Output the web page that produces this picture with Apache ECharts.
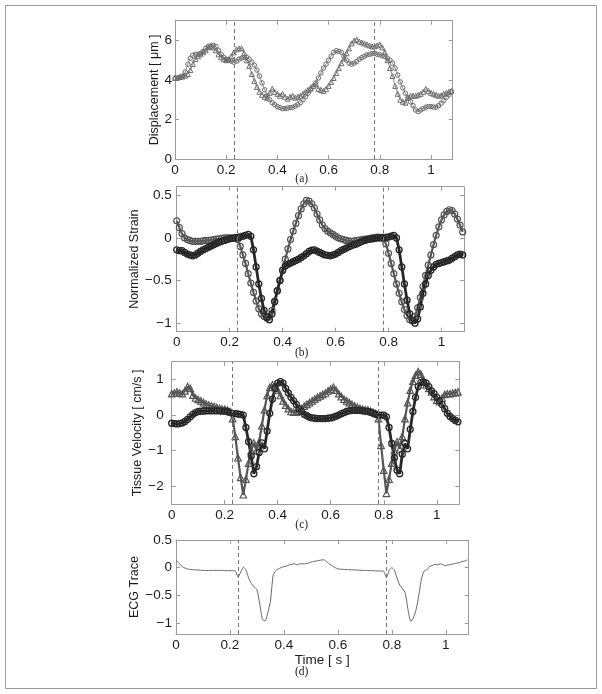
<!DOCTYPE html>
<html>
<head>
<meta charset="utf-8">
<script src="https://cdn.jsdelivr.net/npm/echarts@6/dist/echarts.min.js"></script>
<style>
html,body{margin:0;padding:0;background:#fff;}
#chart{width:602px;height:694px;}
</style>
</head>
<body>
<div id="chart"></div>
<script>
// ---------- data ----------
const time = [0,0.01,0.02,0.03,0.04,0.05,0.06,0.07,0.08,0.09,0.10,0.11,0.12,0.13,0.14,0.15,0.16,0.17,0.18,0.19,
0.20,0.21,0.22,0.23,0.24,0.25,0.26,0.27,0.28,0.29,0.30,0.31,0.32,0.33,0.34,0.35,0.36,0.37,0.38,0.39,
0.40,0.41,0.42,0.43,0.44,0.45,0.46,0.47,0.48,0.49,0.50,0.51,0.52,0.53,0.54,0.55,0.56,0.57,0.58,0.59,
0.60,0.61,0.62,0.63,0.64,0.65,0.66,0.67,0.68,0.69,0.70,0.71,0.72,0.73,0.74,0.75,0.76,0.77,0.78,0.79,
0.80,0.81,0.82,0.83,0.84,0.85,0.86,0.87,0.88,0.89,0.90,0.91,0.92,0.93,0.94,0.95,0.96,0.97,0.98,0.99,
1.00,1.01,1.02,1.03,1.04,1.05,1.06,1.07,1.08];

// (a) displacement [um]
const dispCircles = [4.10,4.10,4.15,4.20,4.40,4.80,5.10,5.25,5.30,5.30,5.35,5.45,5.60,5.70,5.72,5.75,5.70,5.50,5.30,5.15,
5.05,5.00,4.95,4.90,4.95,5.05,5.10,5.15,5.15,5.05,4.90,4.75,4.50,4.20,3.85,3.50,3.20,3.00,2.85,2.75,
2.65,2.60,2.55,2.55,2.58,2.60,2.62,2.68,2.75,2.85,3.00,3.15,3.33,3.50,3.67,3.85,4.10,4.35,4.60,4.80,
5.00,5.20,5.40,5.48,5.45,5.40,5.20,5.00,4.85,4.80,4.85,4.93,5.05,5.13,5.20,5.27,5.30,5.33,5.35,5.30,
5.27,5.22,5.19,5.10,5.00,4.85,4.60,4.25,3.90,3.60,3.33,3.10,2.90,2.70,2.48,2.40,2.48,2.55,2.62,2.65,
2.65,2.63,2.62,2.70,2.82,2.95,3.12,3.25,3.41];
const dispTriangles = [4.10,4.12,4.15,4.18,4.22,4.30,4.50,4.80,5.05,5.20,5.30,5.40,5.50,5.65,5.70,5.65,5.50,5.30,5.15,5.05,
5.00,5.05,5.20,5.40,5.55,5.60,5.60,5.35,5.00,4.70,4.30,3.95,3.65,3.40,3.25,3.15,3.10,3.35,3.55,3.40,
3.30,3.20,3.30,3.15,3.05,3.15,3.20,3.10,3.15,3.20,3.30,3.40,3.50,3.60,3.70,3.80,3.55,3.50,3.45,3.55,
3.70,3.90,4.10,4.35,4.60,4.85,5.10,5.35,5.60,5.85,6.00,6.05,5.95,5.90,5.85,5.80,5.75,5.70,5.70,5.75,
5.80,5.65,5.40,5.00,4.60,4.20,3.70,3.30,3.00,2.90,2.85,3.10,3.20,3.20,3.20,3.25,3.30,3.40,3.55,3.45,
3.35,3.30,3.25,3.20,3.22,3.30,3.35,3.40,3.45];

// (b) normalized strain
const strainA = [0.20,0.12,0.05,0.00,-0.02,-0.03,-0.04,-0.04,-0.04,-0.04,-0.035,-0.03,-0.03,-0.025,-0.02,-0.015,-0.01,-0.005,0.00,0.00,
0.00,0.00,0.00,-0.02,-0.10,-0.20,-0.30,-0.42,-0.53,-0.64,-0.74,-0.83,-0.89,-0.92,-0.94,-0.92,-0.85,-0.74,-0.62,-0.50,
-0.38,-0.25,-0.13,-0.02,0.08,0.17,0.26,0.34,0.40,0.44,0.43,0.40,0.35,0.28,0.21,0.15,0.11,0.08,0.06,0.04,
0.02,0.00,-0.01,-0.02,-0.03,-0.035,-0.04,-0.035,-0.03,-0.025,-0.02,-0.015,-0.01,-0.005,0.00,0.005,0.01,0.005,0.00,-0.07,
-0.18,-0.30,-0.42,-0.54,-0.65,-0.75,-0.84,-0.91,-0.96,-0.97,-0.92,-0.82,-0.70,-0.57,-0.44,-0.32,-0.20,-0.08,0.03,0.13,
0.21,0.27,0.31,0.33,0.32,0.28,0.22,0.15,0.07];
const strainB = [-0.14,-0.15,-0.15,-0.17,-0.19,-0.20,-0.21,-0.20,-0.18,-0.16,-0.14,-0.125,-0.11,-0.095,-0.08,-0.065,-0.05,-0.04,-0.03,-0.02,
-0.01,-0.005,0.00,0.005,0.01,0.02,0.03,0.04,0.02,-0.14,-0.34,-0.54,-0.71,-0.85,-0.93,-0.96,-0.89,-0.75,-0.62,-0.50,
-0.38,-0.33,-0.31,-0.295,-0.28,-0.265,-0.25,-0.23,-0.21,-0.185,-0.16,-0.145,-0.14,-0.155,-0.17,-0.185,-0.20,-0.205,-0.21,-0.20,
-0.19,-0.17,-0.15,-0.135,-0.12,-0.105,-0.09,-0.08,-0.07,-0.055,-0.04,-0.03,-0.02,-0.015,-0.01,-0.005,0.00,0.00,0.00,0.005,
0.01,0.02,0.03,0.00,-0.14,-0.34,-0.54,-0.73,-0.89,-0.97,-1.00,-0.95,-0.81,-0.65,-0.54,-0.44,-0.38,-0.34,-0.31,-0.30,
-0.29,-0.28,-0.27,-0.26,-0.24,-0.22,-0.20,-0.19,-0.20];

// (c) tissue velocity [cm/s]
const velTriangles = [0.60,0.62,0.65,0.62,0.60,0.68,0.80,0.75,0.56,0.48,0.44,0.40,0.35,0.31,0.28,0.26,0.24,0.21,0.19,0.17,
0.16,0.14,0.10,-0.10,-0.60,-1.20,-1.75,-2.24,-1.80,-1.35,-1.00,-0.78,-1.00,-0.75,-0.30,0.15,0.55,0.78,0.85,0.80,
0.70,0.55,0.40,0.28,0.18,0.10,0.08,0.08,0.12,0.18,0.25,0.30,0.35,0.40,0.45,0.50,0.54,0.58,0.62,0.68,
0.73,0.78,0.70,0.60,0.52,0.45,0.40,0.35,0.30,0.26,0.22,0.19,0.17,0.15,0.14,0.11,0.08,0.05,-0.10,-0.85,
-1.55,-2.20,-1.80,-1.35,-1.00,-0.75,-0.95,-0.60,-0.10,0.35,0.70,0.95,1.12,1.22,1.15,0.95,0.85,0.75,0.65,0.52,
0.42,0.38,0.48,0.58,0.60,0.60,0.62,0.63,0.65];
const velCircles = [-0.23,-0.24,-0.25,-0.24,-0.22,-0.18,-0.12,-0.05,0.02,0.07,0.10,0.11,0.11,0.12,0.12,0.12,0.12,0.12,0.12,0.11,
0.11,0.10,0.07,0.05,0.04,0.03,0.02,0.00,-0.35,-0.75,-1.15,-1.65,-1.45,-1.05,-0.78,-0.95,-0.45,0.05,0.45,0.75,
0.90,0.94,0.90,0.75,0.62,0.50,0.40,0.30,0.18,0.10,0.02,-0.02,-0.06,-0.08,-0.09,-0.10,-0.10,-0.10,-0.10,-0.09,
-0.08,-0.06,-0.03,0.00,0.04,0.07,0.10,0.12,0.13,0.13,0.13,0.13,0.12,0.11,0.10,0.08,0.05,0.02,0.00,0.00,
0.00,-0.05,-0.35,-0.80,-1.20,-1.55,-1.65,-1.10,-0.80,-0.95,-0.40,0.10,0.50,0.80,0.92,0.93,0.90,0.80,0.68,0.60,
0.50,0.40,0.30,0.18,0.05,-0.04,-0.10,-0.15,-0.19];

// (d) ECG trace
const ecg = [0.13,0.09,0.03,0.00,-0.02,-0.03,-0.035,-0.04,-0.04,-0.045,-0.05,-0.05,-0.05,-0.05,-0.05,-0.05,-0.05,-0.05,-0.055,-0.055,
-0.055,-0.055,-0.06,-0.17,-0.08,0.01,-0.05,-0.20,-0.29,-0.35,-0.40,-0.64,-0.93,-0.97,-0.82,-0.61,-0.14,-0.05,-0.02,0.00,
0.02,0.03,0.05,0.06,0.07,0.05,0.07,0.07,0.07,0.08,0.10,0.11,0.12,0.13,0.14,0.14,0.10,0.06,0.03,0.00,
-0.02,-0.03,-0.03,-0.035,-0.035,-0.04,-0.04,-0.045,-0.045,-0.05,-0.05,-0.05,-0.055,-0.055,-0.06,-0.06,-0.06,-0.065,-0.18,-0.05,
0.00,-0.05,-0.20,-0.32,-0.38,-0.46,-0.76,-0.97,-0.91,-0.76,-0.50,-0.20,-0.06,-0.04,0.02,0.04,0.06,0.05,0.07,0.05,
0.04,0.05,0.06,0.07,0.08,0.09,0.11,0.12,0.14];

// event markers (vertical dashed lines)
const eventTimes = [0.229, 0.778];

// axis ticks
const xTicks = [0, 0.2, 0.4, 0.6, 0.8, 1];
const xMax = 1.085;
const yTicksA = [0, 2, 4, 6];
const yTicksB = [-1, -0.5, 0, 0.5];
const yTicksC = [-2, -1, 0, 1];
const yTicksD = [-1, -0.5, 0, 0.5];

// ---------- chart ----------
const FONT = '"Liberation Sans", Arial, Helvetica, sans-serif';
const AXC = '#9a9a9a';
const TXT = '#1c1c1c';
const pairs = (vals) => vals.map((v, i) => [time[i], v]);
const fmt = (v) => (Math.abs(v) < 1e-9 ? '0' : String(+v.toFixed(2)).replace('-', '\u2212'));

const panels = [
  {left:175, top:20.7, width:277.7, height:138.3, ymin:0, ymax:7, yt:yTicksA, name:'Displacement [ \u03bcm ]', gap:14, lm:3},
  {left:176.7, top:186.7, width:287.3, height:145, ymin:-1.1, ymax:0.6, yt:yTicksB, name:'Normalized Strain', gap:28, lm:5},
  {left:171.7, top:361.7, width:287.6, height:142.3, ymin:-2.5, ymax:1.5, yt:yTicksC, name:'Tissue Velocity [ cm/s ]', gap:18, lm:8},
  {left:176, top:540, width:292.7, height:94, ymin:-1.2, ymax:0.5, yt:yTicksD, name:'ECG Trace', gap:30, lm:4}
];

const grid = [], xAxis = [], yAxis = [];
panels.forEach((p, g) => {
  grid.push({left:p.left, top:p.top, width:p.width, height:p.height, containLabel:false, outerBoundsMode:'none'});
  ['bottom','top'].forEach(pos => {
    xAxis.push({
      type:'value', gridIndex:g, position:pos, min:0, max:xMax,
      name: (g === 3 && pos === 'bottom') ? 'Time [ s ]' : '',
      nameLocation:'middle', nameGap:14,
      nameTextStyle:{fontFamily:FONT, fontSize:13.5, color:TXT},
      axisLine:{show:true, onZero:false, lineStyle:{color:AXC, width:1}},
      axisTick:{show:true, inside:true, length:4, customValues:xTicks, lineStyle:{color:AXC}},
      axisLabel:{show:pos === 'bottom', customValues:xTicks, margin:4, color:TXT, fontSize:13.5, fontFamily:FONT, formatter:fmt},
      splitLine:{show:false}
    });
  });
  ['left','right'].forEach(pos => {
    yAxis.push({
      type:'value', gridIndex:g, position:pos, min:p.ymin, max:p.ymax,
      name: pos === 'left' ? p.name : '',
      nameLocation:'middle', nameGap:p.gap, nameRotate:90,
      nameTextStyle:{fontFamily:FONT, fontSize:12.5, color:TXT},
      axisLine:{show:true, onZero:false, lineStyle:{color:AXC, width:1}},
      axisTick:{show:true, inside:true, length:4, customValues:p.yt, lineStyle:{color:AXC}},
      axisLabel:{show:pos === 'left', customValues:p.yt, margin:p.lm, color:TXT, fontSize:13.5, fontFamily:FONT, formatter:fmt},
      splitLine:{show:false}
    });
  });
});

function markerSeries(g, vals, symbol, size, color, lineW, bw, withMarks) {
  const s = {
    type:'line', xAxisIndex:2*g, yAxisIndex:2*g, data:pairs(vals),
    symbol:symbol, symbolSize:size, showSymbol:true, showAllSymbol:true,
    itemStyle:{color:'rgba(255,255,255,0)', borderColor:color, borderWidth:bw},
    lineStyle:{color:color, width:lineW},
    emphasis:{disabled:true}, silent:true, animation:false, clip:true
  };
  if (withMarks) {
    s.markLine = {
      silent:true, symbol:['none','none'], label:{show:false}, animation:false,
      lineStyle:{color:'#777', type:[4,3], width:1},
      data: eventTimes.map(t => ({xAxis:t}))
    };
  }
  return s;
}

const series = [
  markerSeries(0, dispCircles, 'circle', 4.5, '#6e6e6e', 0.8, 1, true),
  markerSeries(0, dispTriangles, 'triangle', 5, '#6e6e6e', 0.8, 1, false),
  markerSeries(1, strainA, 'circle', 6, '#555555', 2.2, 1.2, true),
  markerSeries(1, strainB, 'circle', 6, '#262626', 2.8, 1.3, false),
  markerSeries(2, velTriangles, 'triangle', 6.5, '#555555', 2.2, 1.2, true),
  markerSeries(2, velCircles, 'circle', 6, '#282828', 2.8, 1.3, false),
  {
    type:'line', xAxisIndex:6, yAxisIndex:6, data:pairs(ecg), showSymbol:false, symbol:'none',
    lineStyle:{color:'#666', width:1}, smooth:0.2, silent:true, animation:false,
    markLine:{silent:true, symbol:['none','none'], label:{show:false}, animation:false,
      lineStyle:{color:'#777', type:[4,3], width:1}, data:eventTimes.map(t => ({xAxis:t}))}
  }
];

const captionStyle = (txt) => ({text:txt, font:'11.5px "Liberation Serif", "Times New Roman", serif', fill:'#222',
  align:'center', verticalAlign:'middle', textAlign:'center', textVerticalAlign:'middle'});

const chart = echarts.init(document.getElementById('chart'), null, {renderer:'canvas'});
chart.setOption({
  backgroundColor:'#fff',
  animation:false,
  grid, xAxis, yAxis, series,
  graphic:[
    {type:'rect', shape:{x:5.5, y:5.5, width:591, height:683}, style:{fill:'none', stroke:'#9a9a9a', lineWidth:1}, silent:true, z:-10},
    {type:'text', x:301.7, y:179.3, style:captionStyle('(a)'), silent:true},
    {type:'text', x:301.7, y:352.7, style:captionStyle('(b)'), silent:true},
    {type:'text', x:301.7, y:525, style:captionStyle('(c)'), silent:true},
    {type:'text', x:301.7, y:671.7, style:captionStyle('(d)'), silent:true}
  ]
});
</script>
</body>
</html>
